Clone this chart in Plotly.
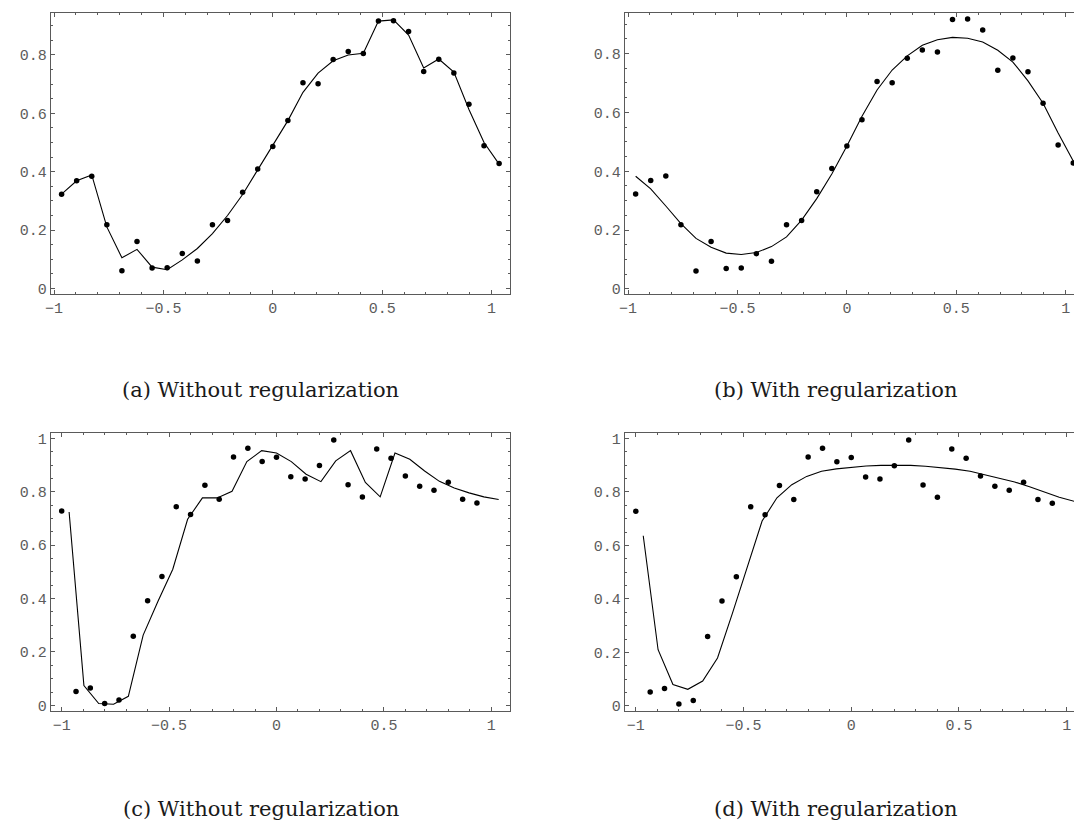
import plotly.graph_objects as go

# Sample positions
x_ab = [-0.9655, -0.8966, -0.8276, -0.7586, -0.6897, -0.6207, -0.5517, -0.4828,
        -0.4138, -0.3448, -0.2759, -0.2069, -0.1379, -0.0690, 0.0, 0.0690,
        0.1379, 0.2069, 0.2759, 0.3448, 0.4138, 0.4828, 0.5517, 0.6207,
        0.6897, 0.7586, 0.8276, 0.8966, 0.9655, 1.0345]
x_cd = [-1.0, -0.9333, -0.8667, -0.8, -0.7333, -0.6667, -0.6, -0.5333,
        -0.4667, -0.4, -0.3333, -0.2667, -0.2, -0.1333, -0.0667, 0.0,
        0.0667, 0.1333, 0.2, 0.2667, 0.3333, 0.4, 0.4667, 0.5333,
        0.6, 0.6667, 0.7333, 0.8, 0.8667, 0.9333]

# Observations, first data set
obs_top = [0.323, 0.369, 0.384, 0.218, 0.061, 0.161, 0.070, 0.071, 0.120, 0.094,
           0.218, 0.233, 0.330, 0.409, 0.486, 0.575, 0.705, 0.701, 0.784, 0.812,
           0.805, 0.916, 0.917, 0.880, 0.743, 0.785, 0.738, 0.631, 0.489, 0.428]
# Observations, second data set
obs_bottom = [0.728, 0.052, 0.065, 0.007, 0.020, 0.259, 0.392, 0.483, 0.744, 0.715,
              0.824, 0.772, 0.930, 0.963, 0.913, 0.929, 0.856, 0.848, 0.898, 0.994,
              0.826, 0.780, 0.960, 0.926, 0.859, 0.821, 0.806, 0.836, 0.772, 0.758]

# Model outputs evaluated on x_ab
fit_a = [0.323, 0.369, 0.389, 0.211, 0.105, 0.134, 0.073, 0.064, 0.098, 0.137,
         0.188, 0.250, 0.322, 0.406, 0.486, 0.575, 0.672, 0.738, 0.780, 0.800,
         0.806, 0.916, 0.920, 0.868, 0.755, 0.786, 0.741, 0.613, 0.500, 0.426]
fit_b = [0.383, 0.340, 0.282, 0.222, 0.172, 0.142, 0.122, 0.117, 0.124, 0.144,
         0.177, 0.234, 0.307, 0.391, 0.486, 0.587, 0.676, 0.744, 0.792, 0.828,
         0.847, 0.855, 0.852, 0.839, 0.811, 0.771, 0.707, 0.631, 0.530, 0.435]
fit_c = [0.724, 0.074, 0.007, 0.004, 0.034, 0.263, 0.390, 0.510, 0.697, 0.777,
         0.777, 0.802, 0.913, 0.954, 0.945, 0.913, 0.866, 0.838, 0.916, 0.954,
         0.835, 0.781, 0.945, 0.922, 0.878, 0.839, 0.814, 0.796, 0.781, 0.771]
fit_d = [0.636, 0.210, 0.080, 0.062, 0.093, 0.179, 0.346, 0.519, 0.691, 0.778,
         0.827, 0.858, 0.877, 0.886, 0.891, 0.897, 0.899, 0.900, 0.899, 0.896,
         0.891, 0.885, 0.877, 0.864, 0.852, 0.837, 0.819, 0.800, 0.780, 0.765]

captions = ["(a) Without regularization", "(b) With regularization",
            "(c) Without regularization", "(d) With regularization"]

W, H = 1074, 826
FRAME = "#5a5a5a"
TICKFONT = dict(family="Liberation Mono, Courier New, monospace", size=15, color="#5c5c5c")

panels = [
    # (x obs, y obs, fit, x domain px, y domain px (top, bottom), x range, y range, right frame)
    (x_ab, obs_top, fit_a, (45, 507), (11, 294.5), [-1.015, 1.085], [-0.019, 0.944], True),
    (x_ab, obs_top, fit_b, (622.3, 1074), (11, 294.5), [-1.015, 1.038], [-0.017, 0.938], False),
    (x_cd, obs_bottom, fit_c, (45, 507), (435, 715.3), [-1.051, 1.088], [-0.022, 1.019], True),
    (x_cd, obs_bottom, fit_d, (622.3, 1074), (435, 715.3), [-1.051, 1.034], [-0.020, 1.019], False),
]

fig = go.Figure()
layout = dict(
    width=W, height=H, margin=dict(l=0, r=0, t=0, b=0),
    paper_bgcolor="white", plot_bgcolor="white", showlegend=False,
)

for k, (xo, yo, fit, xd, yd, xr, yr, right_frame) in enumerate(panels):
    n = "" if k == 0 else str(k + 1)
    xa, ya = "x" + n, "y" + n
    fig.add_trace(go.Scatter(x=x_ab, y=fit, mode="lines", xaxis=xa, yaxis=ya,
                             line=dict(color="black", width=1.1), hoverinfo="skip",
                             cliponaxis=True))
    fig.add_trace(go.Scatter(x=xo, y=yo, mode="markers", xaxis=xa, yaxis=ya,
                             marker=dict(color="black", size=5.5), cliponaxis=True))
    common = dict(showgrid=False, zeroline=False, showline=True, linecolor=FRAME,
                  linewidth=1, ticks="inside", ticklen=4, tickwidth=1, tickcolor=FRAME,
                  tickfont=TICKFONT, fixedrange=True)
    layout["xaxis" + n] = dict(
        common, anchor=ya, domain=[xd[0] / W, xd[1] / W], range=xr,
        tickvals=[-1, -0.5, 0, 0.5, 1], ticktext=["\u22121", "\u22120.5", "0", "0.5", "1"],
        mirror="ticks",
        minor=dict(ticks="inside", ticklen=2, dtick=0.1, tick0=0, tickcolor=FRAME),
    )
    if k < 2:
        yv = [0, 0.2, 0.4, 0.6, 0.8]
        yt = ["0", "0.2", "0.4", "0.6", "0.8"]
    else:
        yv = [0, 0.2, 0.4, 0.6, 0.8, 1]
        yt = ["0", "0.2", "0.4", "0.6", "0.8", "1"]
    layout["yaxis" + n] = dict(
        common, anchor=xa, domain=[1 - yd[1] / H, 1 - yd[0] / H], range=yr,
        tickvals=yv, ticktext=yt,
        mirror="ticks" if right_frame else False,
        minor=dict(ticks="inside", ticklen=2, dtick=0.05, tick0=0, tickcolor=FRAME),
    )

cap_pos = [(256, 391), (834, 391), (256, 814), (834, 814)]
annotations = []
for text, (cx, cy) in zip(captions, cap_pos):
    annotations.append(dict(
        text=text, x=cx / W, y=1 - cy / H, xref="paper", yref="paper",
        xanchor="center", yanchor="middle", showarrow=False,
        font=dict(family="DejaVu Serif, serif", size=21, color="#1a1a1a"),
    ))
layout["annotations"] = annotations

fig.update_layout(**layout)
fig.write_html("out.html")
